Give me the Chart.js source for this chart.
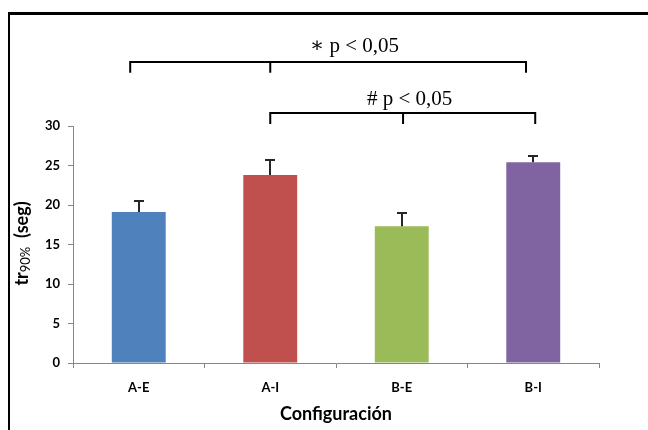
<!DOCTYPE html>
<html>
<head>
<meta charset="utf-8">
<script src="https://cdn.jsdelivr.net/npm/chart.js@4/dist/chart.umd.min.js"></script>
<style>
  html, body { margin: 0; padding: 0; background: #ffffff; }
  #wrap { width: 648px; height: 430px; }
</style>
</head>
<body>
<div id="wrap"><canvas id="c" width="648" height="430"></canvas></div>
<script>
// ---- data ----
const categories = ['A-E', 'A-I', 'B-E', 'B-I'];
const values = [19.1, 23.8, 17.3, 25.4];
const errors = [1.4, 1.9, 1.7, 0.8];
const barColors = ['#4F81BD', '#C0504D', '#9BBB59', '#8064A2'];
const yMin = 0, yMax = 30, yStep = 5;
const xTitle = 'Configuración';
const yTitleParts = ['tr', '90%', '  (seg)'];
// significance brackets: category positions (fractional index), value levels
const bracketFrom = [-0.065, 1.0];
const bracketMid = [1.0, 2.01];
const bracketTo = [2.945, 3.015];
const bracketLevel = [38.1, 31.6];
const bracketDrop = [1.35, 1.35];
const bracketLabels = ['\u2217 p < 0,05', '# p < 0,05'];
const labelPos = [1.64, 2.06];
const labelLevel = [39.4, 32.7];

const AXIS = '#868686';
const TICKFONT = { family: 'Lato, "Open Sans", sans-serif', size: 13, weight: 'bold' };

const framePlugin = {
  id: 'frame',
  beforeDraw(chart) {
    const ctx = chart.ctx;
    ctx.save();
    ctx.fillStyle = '#ffffff';
    ctx.fillRect(0, 0, chart.width, chart.height);
    ctx.fillStyle = '#000000';
    ctx.fillRect(8, 12, chart.width - 8, 3);
    ctx.fillRect(8, 12, 2, chart.height - 12);
    ctx.restore();
  }
};

const errorPlugin = {
  id: 'errbars',
  afterDatasetsDraw(chart) {
    const ctx = chart.ctx;
    const ys = chart.scales.y;
    const meta = chart.getDatasetMeta(0);
    ctx.save();
    ctx.strokeStyle = '#262626';
    ctx.lineWidth = 2;
    meta.data.forEach((bar, i) => {
      const x = Math.round(bar.x);
      const y0 = ys.getPixelForValue(values[i]);
      const y1 = ys.getPixelForValue(values[i] + errors[i]);
      ctx.beginPath();
      ctx.moveTo(x, y0);
      ctx.lineTo(x, y1);
      ctx.moveTo(x - 5, y1);
      ctx.lineTo(x + 5, y1);
      ctx.stroke();
    });
    ctx.restore();
  }
};

const annotPlugin = {
  id: 'annot',
  afterDraw(chart) {
    const ctx = chart.ctx;
    const xs = chart.scales.x, ys = chart.scales.y;
    ctx.save();
    ctx.strokeStyle = '#000000';
    ctx.lineWidth = 2;
    for (let i = 0; i < bracketLabels.length; i++) {
      const xa = xs.getPixelForValue(bracketFrom[i]);
      const xm = xs.getPixelForValue(bracketMid[i]);
      const xb = xs.getPixelForValue(bracketTo[i]);
      const yl = Math.round(ys.getPixelForValue(bracketLevel[i]));
      const yd = ys.getPixelForValue(bracketLevel[i] - bracketDrop[i]);
      ctx.beginPath();
      ctx.moveTo(xa, yd); ctx.lineTo(xa, yl); ctx.lineTo(xb, yl); ctx.lineTo(xb, yd);
      ctx.moveTo(xm, yl); ctx.lineTo(xm, yd);
      ctx.stroke();
      ctx.fillStyle = '#000000';
      ctx.font = '21px "Liberation Serif", "DejaVu Serif", serif';
      ctx.textAlign = 'center';
      ctx.textBaseline = 'alphabetic';
      ctx.fillText(bracketLabels[i], xs.getPixelForValue(labelPos[i]), ys.getPixelForValue(labelLevel[i]));
    }
    // y axis title with subscript
    const ca = chart.chartArea;
    const fBig = 'bold 18px Lato, "Open Sans", sans-serif';
    const fSmall = '13px Lato, "Open Sans", sans-serif';
    ctx.font = fBig; const w0 = ctx.measureText(yTitleParts[0]).width;
    const w2 = ctx.measureText(yTitleParts[2]).width;
    ctx.font = fSmall; const w1 = ctx.measureText(yTitleParts[1]).width;
    const total = w0 + w1 + w2;
    ctx.translate(28, (ca.top + ca.bottom) / 2 - 1);
    ctx.rotate(-Math.PI / 2);
    ctx.textAlign = 'left';
    ctx.textBaseline = 'alphabetic';
    let px = -total / 2;
    ctx.font = fBig; ctx.fillText(yTitleParts[0], px, 0); px += w0;
    ctx.font = fSmall; ctx.fillText(yTitleParts[1], px, 2); px += w1;
    ctx.font = fBig; ctx.fillText(yTitleParts[2], px, 0);
    ctx.restore();
  }
};

new Chart(document.getElementById('c'), {
  type: 'bar',
  data: {
    labels: categories,
    datasets: [{
      data: values,
      backgroundColor: barColors,
      borderWidth: 0,
      barPercentage: 0.41,
      categoryPercentage: 1.0
    }]
  },
  options: {
    responsive: false,
    animation: false,
    devicePixelRatio: 1,
    layout: { padding: { left: 0, right: 49, top: 126, bottom: 0 } },
    plugins: { legend: { display: false }, tooltip: { enabled: false } },
    scales: {
      x: {
        grid: { display: true, drawOnChartArea: false, drawTicks: true, tickLength: 5, color: AXIS, offset: true },
        border: { display: true, color: AXIS, width: 1 },
        ticks: { color: '#000000', font: TICKFONT, padding: 12, maxRotation: 0 },
        title: { display: true, text: xTitle, color: '#000000',
                 font: { family: 'Lato, "Open Sans", sans-serif', size: 18, weight: 'bold' },
                 padding: { top: 0, bottom: 5 } },
        afterFit(scale) { scale.height = 67; }
      },
      y: {
        min: yMin, max: yMax,
        grid: { display: true, drawOnChartArea: false, drawTicks: true, tickLength: 5, color: AXIS },
        border: { display: true, color: AXIS, width: 1 },
        ticks: { stepSize: yStep, color: '#000000', font: TICKFONT, padding: 8 },
        afterFit(scale) { scale.width = 73; }
      }
    }
  },
  plugins: [framePlugin, errorPlugin, annotPlugin]
});
</script>
</body>
</html>
